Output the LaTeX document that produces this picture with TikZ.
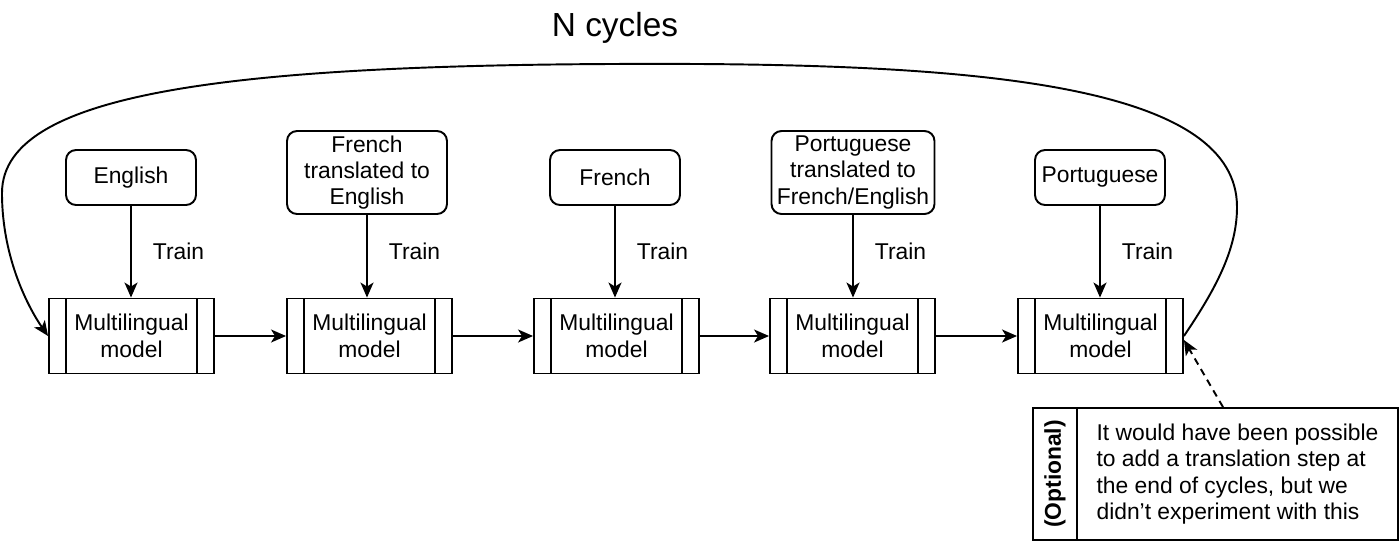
\documentclass[tikz,border=0pt]{standalone}
\usepackage{fontspec}
\setmainfont{Liberation Sans}
\usetikzlibrary{arrows.meta,positioning,calc}

\begin{document}
\begin{tikzpicture}[
  x=0.02cm, y=-0.02cm,
  line width=1.1pt,
  font=\fontsize{13}{15}\selectfont,
  lang/.style={draw, rounded corners=0.2cm, minimum width=2.6cm, minimum height=1.1cm, align=center},
  langtr/.style={lang, minimum width=3.2cm, minimum height=1.66cm, inner sep=1pt},
  model/.style={draw, minimum width=3.3cm, minimum height=1.5cm, align=center,
    path picture={
      \draw ([xshift=0.34cm]path picture bounding box.north west) -- ([xshift=0.34cm]path picture bounding box.south west);
      \draw ([xshift=-0.34cm]path picture bounding box.north east) -- ([xshift=-0.34cm]path picture bounding box.south east);
    }},
  arr/.style={-{Stealth[length=0.3cm, width=0.26cm, inset=0.08cm]}},
  train/.style={right, inner sep=0pt, xshift=0.42cm},
]
  \useasboundingbox (0,0) rectangle (1400,542);

  % Title
  \node[font=\fontsize{19}{22}\selectfont] (title) at (615,28) {N cycles};

  % Data sets
  \node[lang] (t1) at (131,177.5) {English};
  \node[langtr] (t2) at (367,172.5) {French\\translated to\\English};
  \node[lang] (t3) at (615,177.5) {French};
  \node[langtr, minimum width=3.26cm] (t4) at (853,172.5) {Portuguese\\translated to\\French/English};
  \node[lang] (t5) at (1100,177.5) {Portuguese};

  % Models
  \node[model] (m1) at (131.5,336) {Multilingual\\model};
  \node[model] (m2) at (369.5,336) {Multilingual\\model};
  \node[model] (m3) at (616.5,336) {Multilingual\\model};
  \node[model] (m4) at (852.5,336) {Multilingual\\model};
  \node[model] (m5) at (1100.5,336) {Multilingual\\model};

  % Training
  \draw[arr] (t1.south) -- node[train] {Train} (t1.south |- m1.north);
  \draw[arr] (t2.south) -- node[train, pos=0.44] {Train} (t2.south |- m2.north);
  \draw[arr] (t3.south) -- node[train] {Train} (t3.south |- m3.north);
  \draw[arr] (t4.south) -- node[train, pos=0.44] {Train} (t4.south |- m4.north);
  \draw[arr] (t5.south) -- node[train] {Train} (t5.south |- m5.north);

  % Chain
  \draw[arr] (m1) -- (m2);
  \draw[arr] (m2) -- (m3);
  \draw[arr] (m3) -- (m4);
  \draw[arr] (m4) -- (m5);

  % Cycle back
  \draw[arr] (m5.east) .. controls (1215,290) and (1237,250) .. (1237,207)
    .. controls (1237,90) and (1000,66) .. (700,64)
    .. controls (250,62) and (2,88) .. (2,193)
    .. controls (2,260) and (30,310) .. (m1.west);

  % Optional note
  \node[draw, minimum width=6.42cm, minimum height=2.64cm, align=left] (note) at (1237.5,474)
    {It would have been possible\\to add a translation step at\\the end of cycles, but we\\didn{\char"0027}t experiment with this};
  \node[draw, rotate=90, minimum width=2.64cm, minimum height=0.88cm, font=\fontsize{13}{15}\selectfont\bfseries] (opt) at (1055,474) {(Optional)};
  \draw[arr, dash pattern=on 4pt off 3pt] ($(note.north west)!0.455!(note.north east)$) -- ([yshift=-0.08cm]m5.east);
\end{tikzpicture}
\end{document}
